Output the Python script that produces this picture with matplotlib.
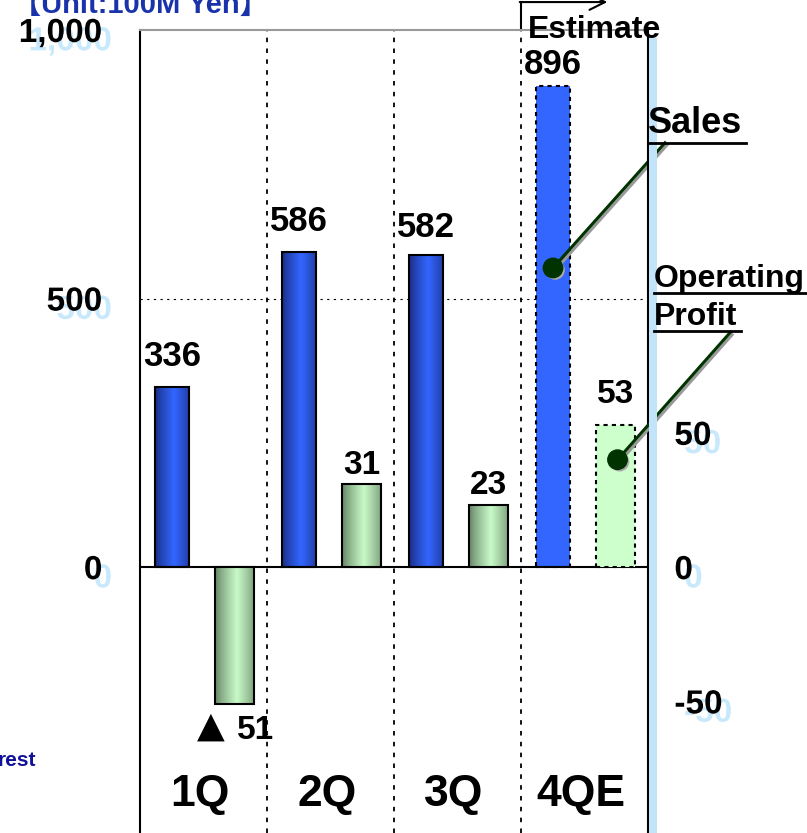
import numpy as np
import matplotlib
matplotlib.use('Agg')
import matplotlib.pyplot as plt
import matplotlib.patheffects as pe
from matplotlib.colors import LinearSegmentedColormap
from matplotlib.patches import Rectangle
from matplotlib.lines import Line2D

quarters = ['1Q', '2Q', '3Q', '4QE']
sales = [336, 586, 582, 896]
op_profit = [-51, 31, 23, 53]
sales_labels = ['336', '586', '582', '896']
profit_labels = ['▲ 51', '31', '23', '53']
left_ticks = [0, 500, 1000]
left_ticklabels = ['0', '500', '1,000']
right_ticks = [-50, 0, 50]
right_ticklabels = ['-50', '0', '50']

W, H = 807, 833
plt.rcParams['font.family'] = ['Liberation Sans', 'DejaVu Sans', 'Noto Sans CJK JP']
plt.rcParams['font.weight'] = 'bold'


def fig_xy(x, y):
    # pixel position (from top-left) -> figure fraction
    return x / W, 1 - y / H


fig = plt.figure(figsize=(W / 100, H / 100), dpi=100)
ax = fig.add_axes([140 / W, 0, 508 / W, 1 - 30 / H])
ax2 = ax.twinx()

idx = np.arange(len(quarters))
sales_x = idx + 0.25
op_x = idx + 0.745

sales_bars = ax.bar(sales_x, sales, width=0.27, facecolor='none',
                    edgecolor='black', linewidth=1.5, zorder=3)
op_bars = ax2.bar(op_x, op_profit, width=0.31, facecolor='none',
                  edgecolor='black', linewidth=1.5, zorder=3)


def gradient_fill(a, bars, edge, mid):
    t = np.linspace(0, 1, 80)
    prof = np.clip(1 - np.abs(t - 0.55) / 0.55, 0, 1) ** 0.8
    cmap = LinearSegmentedColormap.from_list('g', [edge, mid])
    for b in bars:
        x0, y0 = b.get_x(), b.get_y()
        w, h = b.get_width(), b.get_height()
        im = a.imshow(prof[None, :], extent=(x0, x0 + w, y0, y0 + h), cmap=cmap,
                      vmin=0, vmax=1, aspect='auto', zorder=2,
                      interpolation='bicubic')
        im.set_clip_path(b)


gradient_fill(ax, list(sales_bars)[:3], '#182c80', '#3366ff')
gradient_fill(ax2, list(op_bars)[:3], '#627f62', '#c8fac8')

# estimate bars: flat colour, dashed outline
sales_bars[3].set_facecolor('#3366ff')
sales_bars[3].set_linestyle((0, (2, 2)))
op_bars[3].set_facecolor('#ccffcc')
op_bars[3].set_linestyle((0, (2, 2)))

ax.set_xlim(0, 4)
ax.set_ylim(-495, 1000)
ax2.set_ylim(-99, 200)

# separators and guides
ax.vlines([1, 2, 3], -495, 1000, colors='black', linewidth=1.3,
          linestyles=(0, (2.5, 3.5)), zorder=1)
ax.axhline(500, color='black', linewidth=0.8, linestyle=(0, (2, 4)), zorder=1)
ax.axhline(0, color='black', linewidth=1.5, zorder=4)

ax.spines['bottom'].set_visible(False)
ax2.spines['bottom'].set_visible(False)
ax.spines['top'].set_color('#999999')
ax.spines['top'].set_linewidth(1.5)
ax2.spines['top'].set_visible(False)
ax.spines['left'].set_linewidth(1.5)
ax2.spines['right'].set_linewidth(1.5)
ax.spines['right'].set_visible(False)
ax2.spines['left'].set_visible(False)

ghost = [pe.SimplePatchShadow(offset=(7, -6), shadow_rgbFace='#c8e8fc', alpha=1.0),
         pe.Normal()]

ax.set_xticks([])
ax.set_yticks(left_ticks)
ax.set_yticklabels(left_ticklabels, fontsize=24, fontweight='bold')
ax.tick_params(axis='y', length=0, pad=27)
for lbl in ax.get_yticklabels():
    lbl.set_path_effects(ghost)

ax2.set_yticks(right_ticks)
ax2.set_yticklabels(right_ticklabels, fontsize=24, fontweight='bold')
ax2.tick_params(axis='y', length=0, pad=19)
for lbl in ax2.get_yticklabels():
    lbl.set_path_effects(ghost)

# value labels
sales_gap = [21, 21, 18, 12]
for x, v, t, g in zip(sales_x, sales, sales_labels, sales_gap):
    ax.annotate(t, xy=(x, v), xytext=(0, g * 0.72), textcoords='offset points',
                ha='center', va='baseline', fontsize=25, fontweight='bold')
op_gap = [10, 10, 11, 22]
for x, v, t, g in zip(op_x, op_profit, profit_labels, op_gap):
    if v < 0:
        # negative values: a large triangle marker followed by the magnitude
        mark, num = t.split(' ')
        ax2.annotate(mark, xy=(x, v), xytext=(-17, -g * 0.72 + 3), textcoords='offset points',
                     ha='center', va='top', fontsize=26, family='DejaVu Sans')
        ax2.annotate(num, xy=(x, v), xytext=(15, -g * 0.72 - 1), textcoords='offset points',
                     ha='center', va='top', fontsize=24, fontweight='bold')
    else:
        ax2.annotate(t, xy=(x, v), xytext=(0, g * 0.72), textcoords='offset points',
                     ha='center', va='baseline', fontsize=24, fontweight='bold')

# quarter labels
for i, q in enumerate(quarters):
    ax.text(i + 0.47, -445, q, ha='center', va='baseline', fontsize=32,
            fontweight='bold')

# estimate bracket above the last quarter
ax.plot([3, 3], [1000, 1052], color='black', linewidth=1.5, clip_on=False)
ax.annotate('', xy=(3.68, 1052), xytext=(2.99, 1052), annotation_clip=False,
            arrowprops=dict(arrowstyle='->', color='black', lw=1.5,
                            mutation_scale=28, shrinkA=0, shrinkB=0))
fig.text(*fig_xy(528, 38), 'Estimate', fontsize=23, fontweight='bold',
         va='baseline', ha='left')

# light blue band along the right axis
fig.patches.append(Rectangle(fig_xy(649, 833), 8 / W, (833 - 38) / H,
                             transform=fig.transFigure, facecolor='#c2e4fa',
                             edgecolor='none', zorder=0.5))

# unit caption and partial side caption
fig.text(*fig_xy(12, 13), '【Unit:100M Yen】', fontsize=21, fontweight='bold',
         color='#1a33aa', va='baseline', ha='left')
fig.text(*fig_xy(-2, 766), 'rest', fontsize=15, fontweight='bold',
         color='#10109a', va='baseline', ha='left')

# series call-outs with leader lines
leader_fx = [pe.SimpleLineShadow(offset=(1.5, -1.5), shadow_color='#999999', alpha=1),
             pe.Normal()]
dot_fx = [pe.SimplePatchShadow(offset=(1.5, -1.5), shadow_rgbFace='#aaaaaa', alpha=1),
          pe.Normal()]
ax.plot([3.252, 4.134], [557, 790], color='#003300', linewidth=2.2,
        clip_on=False, zorder=6, path_effects=leader_fx)
ax.plot([3.252], [557], 'o', color='#003300', markersize=14, clip_on=False,
        zorder=7, path_effects=dot_fx)
ax2.plot([3.76, 4.646], [40, 87.3], color='#003300', linewidth=2.2,
         clip_on=False, zorder=6, path_effects=leader_fx)
ax2.plot([3.76], [40], 'o', color='#003300', markersize=14, clip_on=False,
         zorder=7, path_effects=dot_fx)

callouts = [('Sales', 648, 133, 143, 26),
            ('Operating', 654, 287, 293, 23),
            ('Profit', 654, 325, 331, 23)]
texts = []
for label, x, yb, yu, fs in callouts:
    texts.append((fig.text(*fig_xy(x, yb), label, fontsize=fs, fontweight='bold',
                           va='baseline', ha='left'), yu))

fig.canvas.draw()
for t, yu in texts:
    bb = t.get_window_extent()
    y = 1 - yu / H
    fig.add_artist(Line2D([bb.x0 / W, bb.x1 / W + 4 / W], [y, y], color='black',
                          linewidth=2, transform=fig.transFigure))

fig.savefig('out.png', dpi=100)
